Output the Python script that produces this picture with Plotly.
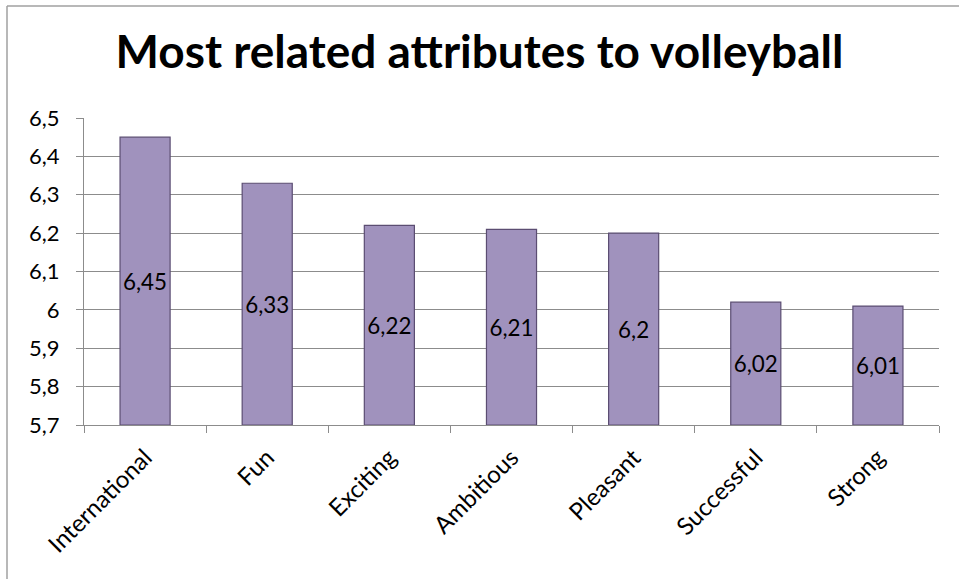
import plotly.graph_objects as go

categories = ["International", "Fun", "Exciting", "Ambitious", "Pleasant", "Successful", "Strong"]
values = [6.45, 6.33, 6.22, 6.21, 6.2, 6.02, 6.01]
value_labels = ["6,45", "6,33", "6,22", "6,21", "6,2", "6,02", "6,01"]
y_ticks = [5.7, 5.8, 5.9, 6.0, 6.1, 6.2, 6.3, 6.4, 6.5]
y_tick_labels = ["5,7", "5,8", "5,9", "6", "6,1", "6,2", "6,3", "6,4", "6,5"]

FONT = "Lato, Carlito, 'Open Sans', sans-serif"

fig = go.Figure()
fig.add_trace(go.Bar(
    x=categories,
    y=[v - 5.7 for v in values],
    base=5.7,
    text=value_labels,
    textposition="inside",
    insidetextanchor="middle",
    textangle=0,
    textfont=dict(family=FONT, size=23, color="black"),
    marker=dict(color="#a092bd", line=dict(color="#5b4d72", width=1.2)),
    hoverinfo="skip",
))

fig.update_layout(
    width=959, height=579,
    margin=dict(l=84, r=20, t=118, b=154),
    paper_bgcolor="white",
    plot_bgcolor="white",
    bargap=0.59,
    showlegend=False,
    title=dict(text="<b>Most related attributes to volleyball</b>",
               x=0.5, xanchor="center", y=1 - 52 / 579, yanchor="middle",
               font=dict(family=FONT, size=46, color="black")),
    font=dict(family=FONT, size=22, color="black"),
    uniformtext=dict(minsize=10, mode="show"),
)
fig.update_yaxes(
    range=[5.7, 6.5], tickvals=y_ticks, ticktext=y_tick_labels,
    showgrid=True, gridcolor="#8c8c8c", gridwidth=1,
    showline=True, linecolor="#8c8c8c", linewidth=1,
    ticks="outside", ticklen=7, tickcolor="#8c8c8c",
    ticklabelstandoff=12,
    tickfont=dict(family=FONT, size=22, color="black"),
    zeroline=False,
)
fig.update_xaxes(
    showline=True, linecolor="#8c8c8c", linewidth=1,
    ticks="outside", ticklen=7, tickcolor="#8c8c8c",
    tickson="boundaries",
    tickangle=-45,
    ticklabelstandoff=8,
    tickfont=dict(family=FONT, size=24, color="black"),
)
# chart-area border (top and left edges)
fig.add_shape(type="line", xref="paper", yref="paper",
              x0=-77 / 855, x1=1 + 20 / 855, y0=1 + 112 / 307, y1=1 + 112 / 307,
              line=dict(color="#a0a0a0", width=1.5))
fig.add_shape(type="line", xref="paper", yref="paper",
              x0=-77 / 855, x1=-77 / 855, y0=1 + 112 / 307, y1=-154 / 307,
              line=dict(color="#a0a0a0", width=1.5))

fig.write_html("out.html")
